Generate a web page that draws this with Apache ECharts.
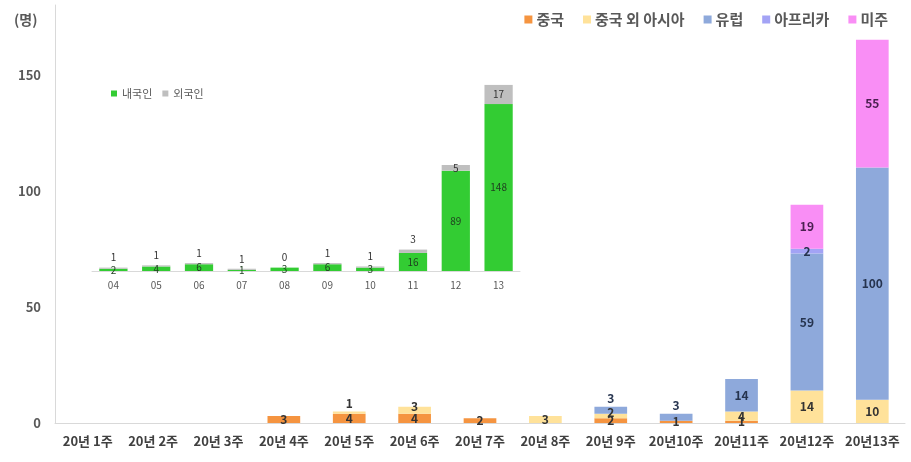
<!DOCTYPE html>
<html>
	<head>
		<meta charset="UTF-8">
		<title>주별 확진자</title>
		<style>
			html, body { margin: 0; padding: 0; background: #fff; }
			#chart { width: 911px; height: 462px; }
		</style>
	</head>
	<body>
		<div id="chart"></div>
		<script src="https://cdn.jsdelivr.net/npm/echarts@6/dist/echarts.min.js"></script>
		<script>
			// 주별 해외유입 (지역별)
			var weekLabels = ['20년 1주', '20년 2주', '20년 3주', '20년 4주', '20년 5주', '20년 6주', '20년 7주',
				'20년 8주', '20년 9주', '20년10주', '20년11주', '20년12주', '20년13주'];
			var china   = [0, 0, 0, 3, 4, 4, 2, 0, 2, 1, 1, 0, 0];
			var asiaEx  = [0, 0, 0, 0, 1, 3, 0, 3, 2, 0, 4, 14, 10];
			var europe  = [0, 0, 0, 0, 0, 0, 0, 0, 3, 3, 14, 59, 100];
			var africa  = [0, 0, 0, 0, 0, 0, 0, 0, 0, 0, 0, 2, 0];
			var america = [0, 0, 0, 0, 0, 0, 0, 0, 0, 0, 0, 19, 55];

			// 작은 그래프 (내국인/외국인)
			var insetWeeks = ['04', '05', '06', '07', '08', '09', '10', '11', '12', '13'];
			var domestic = [2, 4, 6, 1, 3, 6, 3, 16, 89, 148];
			var foreign  = [1, 1, 1, 1, 0, 1, 1, 3, 5, 17];

			var font = '"Noto Sans CJK KR", "Noto Sans", sans-serif';

			// above: 라벨을 막대 위로, lift: 라벨을 조금 올림 (index)
			function mainData(arr, above, lift) {
				return arr.map(function(v, i) {
					var item = { value: v };
					if (above && above.indexOf(i) >= 0) {
						item.label = { position: 'top', distance: 2 };
					} else if (lift && lift.indexOf(i) >= 0) {
						item.label = { offset: [0, -4] };
					}
					return item;
				});
			}
			function mainSeries(name, arr, color, textColor, above, lift) {
				return {
					name: name,
					type: 'bar',
					stack: 'main',
					barWidth: '50%',
					itemStyle: { color: color },
					label: {
						show: true,
						position: 'inside',
						fontFamily: font,
						fontWeight: 'bold',
						fontSize: 12,
						color: textColor,
						formatter: function(p) { return p.value ? p.value : ''; }
					},
					data: mainData(arr, above, lift)
				};
			}

			var chart = echarts.init(document.getElementById('chart'));
			var option = {
				backgroundColor: '#fff',
				animation: false,
				textStyle: { fontFamily: font },
				graphic: [{
					type: 'text',
					left: 14,
					top: 13,
					style: { text: '(명)', font: 'bold 14px ' + font, fill: '#595959' }
				}],
				legend: [{
					data: ['중국', '중국 외 아시아', '유럽', '아프리카', '미주'],
					right: 18,
					top: 7,
					icon: 'rect',
					itemWidth: 8,
					itemHeight: 8,
					itemGap: 19,
					textStyle: { fontFamily: font, fontWeight: 'bold', fontSize: 15, color: '#595959', padding: [0, 0, 0, -1] }
				}, {
					data: ['내국인', '외국인'],
					left: 106,
					top: 83,
					icon: 'rect',
					itemWidth: 6,
					itemHeight: 6,
					itemGap: 10,
					textStyle: { fontFamily: font, fontSize: 11, color: '#595959' }
				}],
				grid: [{
					left: 55, right: 6, top: 5, bottom: 39
				}, {
					left: 92, width: 428, top: 68, bottom: 191
				}],
				xAxis: [{
					type: 'category',
					gridIndex: 0,
					data: weekLabels,
					axisLine: { lineStyle: { color: '#d9d9d9' } },
					axisTick: { show: false },
					axisLabel: { interval: 0, margin: 12, fontFamily: font, fontWeight: 'bold', fontSize: 13, color: '#404040' }
				}, {
					type: 'category',
					gridIndex: 1,
					data: insetWeeks,
					axisLine: { lineStyle: { color: '#d9d9d9' } },
					axisTick: { show: false },
					axisLabel: { interval: 0, margin: 9, fontFamily: font, fontSize: 10, color: '#595959' }
				}],
				yAxis: [{
					type: 'value',
					gridIndex: 0,
					min: 0,
					max: 180,
					interval: 50,
					axisLine: { show: true, lineStyle: { color: '#d9d9d9' } },
					axisTick: { show: false },
					splitLine: { show: false },
					axisLabel: { showMaxLabel: false, margin: 14, fontFamily: font, fontWeight: 'bold', fontSize: 13, color: '#595959' }
				}, {
					type: 'value',
					gridIndex: 1,
					min: 0,
					max: 180,
					show: false,
					splitLine: { show: false }
				}],
				series: [
					mainSeries('중국', china, '#F59440', '#333'),
					mainSeries('중국 외 아시아', asiaEx, '#FFE29A', '#333', [4], [5, 8]),
					mainSeries('유럽', europe, '#8EA9DB', '#26344f', [8, 9]),
					mainSeries('아프리카', africa, '#A3A3F5', '#26344f'),
					mainSeries('미주', america, '#F98EF5', '#4a2050'),
					{
						name: '내국인',
						type: 'bar',
						stack: 'inset',
						xAxisIndex: 1,
						yAxisIndex: 1,
						barWidth: '66%',
						itemStyle: { color: '#33CC33' },
						label: { show: true, position: 'inside', fontFamily: font, fontSize: 10, color: '#1f3d1f' },
						data: domestic
					},
					{
						name: '외국인',
						type: 'bar',
						stack: 'inset',
						xAxisIndex: 1,
						yAxisIndex: 1,
						barWidth: '66%',
						itemStyle: { color: '#BFBFBF' },
						label: { show: true, position: 'top', distance: 5, fontFamily: font, fontSize: 10, color: '#333' },
						data: foreign.map(function(v, i) {
							return i >= 8 ? { value: v, label: { position: 'inside' } } : v;
						})
					}
				]
			};
			chart.setOption(option);
		</script>
	</body>
</html>
